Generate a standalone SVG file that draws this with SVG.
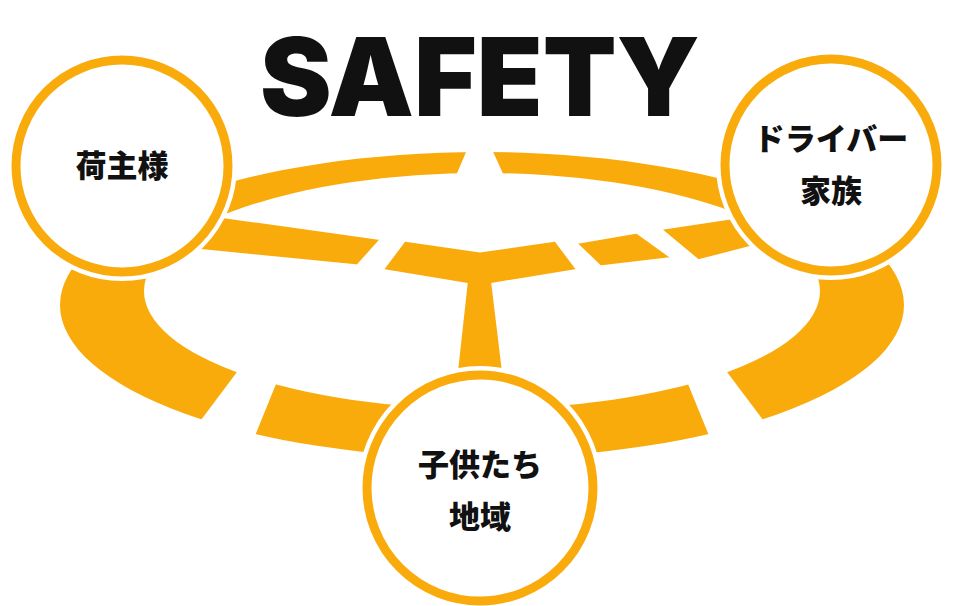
<svg xmlns="http://www.w3.org/2000/svg" width="960" height="606" viewBox="0 0 960 606">
<style>
.o{fill:#FAAB0C}
.cut{fill:#fff}
.halo{fill:none;stroke:#fff;stroke-width:18}
.ring{fill:#fff;stroke:#FAAB0C;stroke-width:9}
.t{font-family:"Noto Sans CJK JP","Noto Sans",sans-serif;font-weight:900;font-size:31px;fill:#111;text-anchor:middle}
</style>
<rect width="960" height="606" fill="#fff"/>
<text x="480" y="116" font-family="Inter,'Liberation Sans',sans-serif" font-weight="900" font-size="108" text-anchor="middle" textLength="440" lengthAdjust="spacingAndGlyphs" fill="#111">SAFETY</text>
<g id="wheel">
<path class="o" fill-rule="evenodd" d="M60,305 A422,153 0 1,0 904,305 A422,153 0 1,0 60,305 Z M144,291 A338,118 0 1,0 820,291 A338,118 0 1,0 144,291 Z"/>
<polygon class="cut" points="469,145 490,145 505,178 455,178"/>
<polygon class="cut" points="240,368 276,384 250,448 192,432"/>
<polygon class="cut" points="724,368 688,384 714,448 772,432"/>
<g stroke="#fff" stroke-width="5" stroke-linejoin="miter">
<polygon class="o" points="205,213 384,238 358,267 196,251"/>
<polygon class="o" points="404,239 480,250 556,239 580,271 494,285 505,376 455,376 465,285 380,271"/>
<polygon class="o" points="573,242 637,231 676,259 600,268"/>
<polygon class="o" points="657,228 750,214 760,246 698,262"/>
</g>
</g>
<g id="node-ninushi">
<circle class="halo" cx="122" cy="166" r="106"/>
<circle class="ring" cx="122" cy="166" r="106"/>
<text class="t" x="122" y="177">荷主様</text>
</g>
<g id="node-driver">
<circle class="halo" cx="831" cy="165" r="106"/>
<circle class="ring" cx="831" cy="165" r="106"/>
<text class="t" x="831" y="150">ドライバー</text>
<text class="t" x="831" y="202">家族</text>
</g>
<g id="node-kodomo">
<circle class="halo" cx="480" cy="488" r="113"/>
<circle class="ring" cx="480" cy="488" r="113"/>
<text class="t" x="480" y="476">子供たち</text>
<text class="t" x="480" y="528">地域</text>
</g>
</svg>
